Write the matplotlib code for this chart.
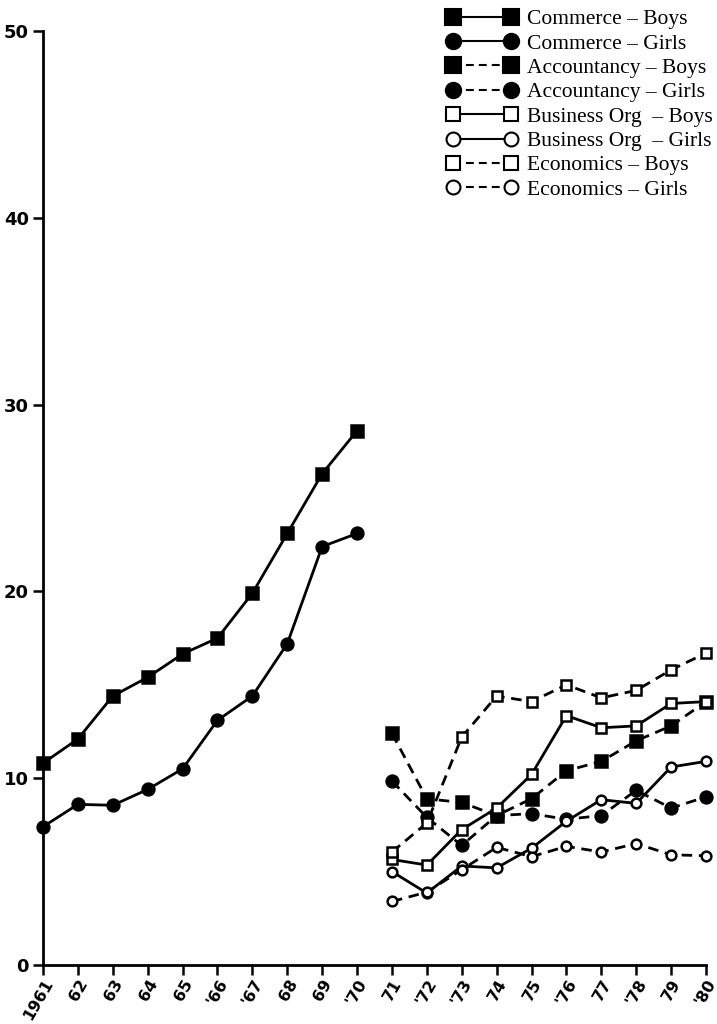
import matplotlib
matplotlib.use("Agg")
import matplotlib.pyplot as plt

years_a = [1961, 1962, 1963, 1964, 1965, 1966, 1967, 1968, 1969, 1970]
years_b = [1971, 1972, 1973, 1974, 1975, 1976, 1977, 1978, 1979, 1980]
all_years = years_a + years_b
tick_labels = ["1961", "62", "63", "64", "65", "'66", "'67", "68", "69", "'70",
               "71", "'72", "'73", "74", "75", "'76", "77", "'78", "79", "'80"]

commerce_boys = [10.8, 12.1, 14.4, 15.4, 16.65, 17.5, 19.9, 23.1, 26.3, 28.6]
commerce_girls = [7.4, 8.6, 8.55, 9.4, 10.5, 13.1, 14.4, 17.2, 22.4, 23.1]
accountancy_boys = [12.4, 8.9, 8.7, 8.0, 8.9, 10.4, 10.9, 12.0, 12.8, 14.1]
accountancy_girls = [9.85, 7.9, 6.4, 8.0, 8.1, 7.8, 8.0, 9.35, 8.4, 9.0]
busorg_boys = [5.65, 5.35, 7.25, 8.4, 10.2, 13.35, 12.7, 12.8, 14.0, 14.1]
busorg_girls = [5.0, 3.85, 5.3, 5.2, 6.25, 7.7, 8.85, 8.65, 10.6, 10.9]
economics_boys = [6.05, 7.6, 12.2, 14.4, 14.1, 15.0, 14.3, 14.7, 15.8, 16.7]
economics_girls = [3.4, 3.9, 5.1, 6.3, 5.8, 6.35, 6.05, 6.5, 5.9, 5.85]

labels = ["Commerce \u2013 Boys", "Commerce \u2013 Girls",
          "Accountancy \u2013 Boys", "Accountancy \u2013 Girls",
          "Business Org  \u2013 Boys", "Business Org  \u2013 Girls",
          "Economics \u2013 Boys", "Economics \u2013 Girls"]

fig = plt.figure(figsize=(7.17, 10.24), dpi=100)
ax = fig.add_axes([43/717, 1-965/1024, (706-43)/717, (965-31)/1024])

lw = 2.0
dash = (0, (3.8, 2.4))
series = [
    (years_a, commerce_boys, "s", "black", "-", 8.5),
    (years_a, commerce_girls, "o", "black", "-", 8.5),
    (years_b, accountancy_boys, "s", "black", dash, 8.5),
    (years_b, accountancy_girls, "o", "black", dash, 8.5),
    (years_b, busorg_boys, "s", "white", "-", 7),
    (years_b, busorg_girls, "o", "white", "-", 7),
    (years_b, economics_boys, "s", "white", dash, 7),
    (years_b, economics_girls, "o", "white", dash, 7),
]
for (xs, ys, m, fc, ls, ms), lab in zip(series, labels):
    ax.plot(xs, ys, marker=m, markerfacecolor=fc, markeredgecolor="black",
            markeredgewidth=1.8, color="black", linestyle=ls, linewidth=lw,
            markersize=ms, clip_on=False, label=lab)

ax.set_xlim(1961, 1980)
ax.set_ylim(0, 50)
for s in ["top", "right"]:
    ax.spines[s].set_visible(False)
for s in ["left", "bottom"]:
    ax.spines[s].set_linewidth(2.0)
ax.set_yticks([0, 10, 20, 30, 40, 50])
ax.set_yticklabels(["0", "10", "20", "30", "40", "50"], fontsize=13,
                   fontweight="bold", family="DejaVu Sans")
ax.set_xticks(all_years)
ax.set_xticklabels(tick_labels, fontsize=11.5, fontweight="bold",
                   family="DejaVu Sans", rotation=60, ha="right",
                   rotation_mode="anchor")
ax.tick_params(axis="both", direction="out", length=7, width=1.8, pad=3)
ax.tick_params(axis="x", pad=1.5)

leg_handles = []
for (xs, ys, m, fc, ls, ms) in series:
    h, = ax.plot([], [], marker=m, markerfacecolor=fc, markeredgecolor="black",
                 markeredgewidth=1.5, color="black", linestyle=ls, linewidth=1.5,
                 markersize=11 if fc == "black" else 10)
    leg_handles.append(h)
fig.legend(leg_handles, labels, loc="upper right", bbox_to_anchor=(1.021, 1.010),
           frameon=False, numpoints=2, handlelength=3.3, handletextpad=0.45,
           labelspacing=0.2, prop={"family": "Liberation Serif", "size": 15.5})

fig.savefig("out.png", dpi=100)
